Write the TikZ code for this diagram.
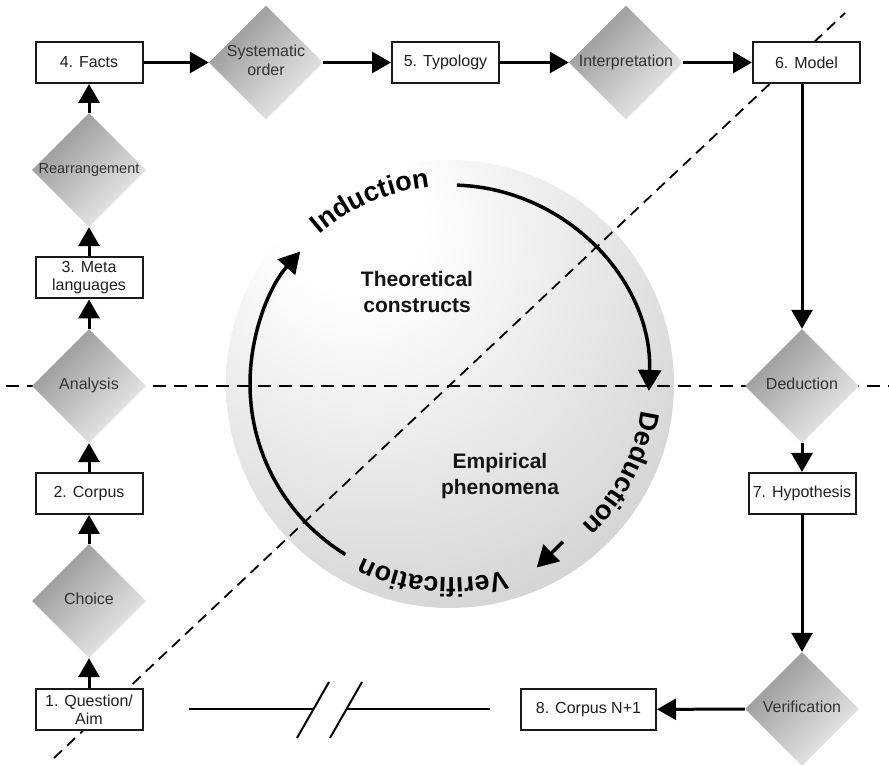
\documentclass[tikz,border=0pt]{standalone}
\usepackage{fontspec}
\setmainfont{Liberation Sans}
\usetikzlibrary{arrows.meta, shapes.geometric, decorations.text}

% soft grey sphere, brightest towards the upper left
\pgfdeclareradialshading{globe}{\pgfpoint{-12bp}{20bp}}{%
  color(0bp)=(white);
  color(8bp)=(white);
  color(30bp)=(black!12);
  color(45bp)=(black!20);
  color(60bp)=(black!30);
  color(75bp)=(black!40);
  color(90bp)=(black!42)}

\newcommand\cyclefont{\fontsize{27pt}{27pt}\selectfont\bfseries}
\newcommand\dlabel[1]{\makebox[0pt]{\begin{tabular}{@{}c@{}}#1\end{tabular}}}

\begin{document}
\begin{tikzpicture}[x=1pt, y=1pt,
  stagebox/.style={draw=black!90, line width=2pt, fill=white,
    minimum width=107pt, minimum height=41pt, inner sep=2pt, align=center,
    font=\fontsize{16pt}{18pt}\selectfont, text=black!88},
  decision/.style={diamond, draw=none, minimum width=114pt, minimum height=114pt,
    inner sep=0pt, top color=black!42, bottom color=black!7, shading angle=45,
    font=\fontsize{16pt}{19pt}\selectfont, text=black!80},
  flow/.style={line width=3pt, -{Triangle[length=19pt, width=21pt]}},
  cyclearrow/.style={line width=3.5pt, -{Triangle[length=21pt, width=23pt]}},
  divider/.style={line width=2pt, dash pattern=on 13pt off 8pt},
  slantdivider/.style={line width=1.8pt, dash pattern=on 11pt off 7pt},
  breakline/.style={line width=2pt},
  cycletext/.style={decorate, decoration={text along path, text align=center, text={|\cyclefont|#1}}},
  region/.style={align=center, font=\fontsize{21pt}{26pt}\selectfont\bfseries, text=black!92}
]
\useasboundingbox (0,0) rectangle (889,765);
\fill[white] (0,0) rectangle (889,765);

% central sphere
\coordinate (C) at (450,381);
\shade[shading=globe] (C) circle[radius=224];

% dividing lines
\coordinate (hl) at (6,379);
\coordinate (hr) at (889,379);
\draw[divider] (hl) -- (hr);
\coordinate (dl) at (54,7);
\coordinate (dr) at (845,752);
\draw[slantdivider] (dl) -- (dr);

% research cycle inside the sphere
\draw[cyclearrow] ([shift={(88:199)}]C) arc[start angle=88, end angle=-2, radius=199];
\draw[cyclearrow] ([shift={(238.5:200)}]C) arc[start angle=238.5, end angle=138.5, radius=200];
\coordinate (vs) at ([shift={(-54.4:194)}]C);
\coordinate (ve) at ([shift={(-64.7:203)}]C);
\draw[cyclearrow] (vs) -- (ve);

\path[cycletext=Induction] ([shift={(150:198)}]C) arc[start angle=150, end angle=77, radius=198];
\path[cycletext=Deduction] ([shift={(10:193)}]C) arc[start angle=10, end angle=-65, radius=193];
\path[cycletext=Verification] ([shift={(-55:194)}]C) arc[start angle=-55, end angle=-135, radius=194];

\node[region] (theory) at (417,473) {Theoretical\\constructs};
\node[region] (empiric) at (500,289) {Empirical\\phenomena};

% left column
\node[stagebox] (facts)    at (89,702.5) {4. Facts};
\node[decision, font=\fontsize{14.5pt}{17pt}\selectfont] (rearr) at (89,595) {\dlabel{Rearrangement}};
\node[stagebox] (meta)     at (89,487)   {3. Meta\\languages};
\node[decision] (analysis) at (89,379)   {\dlabel{Analysis}};
\node[stagebox] (corpus)   at (89,271.5) {2. Corpus};
\node[decision] (choice)   at (89,164)   {\dlabel{Choice}};
\node[stagebox] (question) at (89,55.5)  {1. Question/\\Aim};

% top row
\node[decision] (sysorder) at (266,702.5) {\dlabel{Systematic\\order}};
\node[stagebox] (typology) at (445.5,702.5) {5. Typology};
\node[decision] (interp)   at (626,702.5) {\dlabel{Interpretation}};
\node[stagebox] (model)    at (806.5,702.5) {6. Model};

% right column
\node[decision] (deduct)   at (802,379)   {\dlabel{Deduction}};
\node[stagebox] (hypo)     at (802,271.5) {7. Hypothesis};
\node[decision] (verif)    at (802,56)    {\dlabel{Verification}};
\node[stagebox, minimum width=135pt] (corpusn) at (588.5,55.5) {8. Corpus N+1};

% flow of the research process
\draw[flow] (question) -- (choice);
\draw[flow] (choice) -- (corpus);
\draw[flow] (corpus) -- (analysis);
\draw[flow] (analysis) -- (meta);
\draw[flow] (meta) -- (rearr);
\draw[flow] (rearr) -- (facts);
\draw[flow] (facts) -- (sysorder);
\draw[flow] (sysorder) -- (typology);
\draw[flow] (typology) -- (interp);
\draw[flow] (interp) -- (model);
\draw[flow] (model.south -| deduct) -- (deduct);
\draw[flow] (deduct) -- (hypo);
\draw[flow] (hypo) -- (verif);
\draw[flow] (verif) -- (corpusn);

% interrupted link between the first and the new corpus
\coordinate (b1) at (189,56);
\coordinate (b2) at (313,56);
\coordinate (b3) at (346,56);
\coordinate (b4) at (490,56);
\coordinate (s1a) at (297,27);
\coordinate (s1b) at (329,83);
\coordinate (s2a) at (330,27);
\coordinate (s2b) at (362,83);
\draw[breakline] (b1) -- (b2);
\draw[breakline] (b3) -- (b4);
\draw[breakline] (s1a) -- (s1b);
\draw[breakline] (s2a) -- (s2b);
\end{tikzpicture}
\end{document}
